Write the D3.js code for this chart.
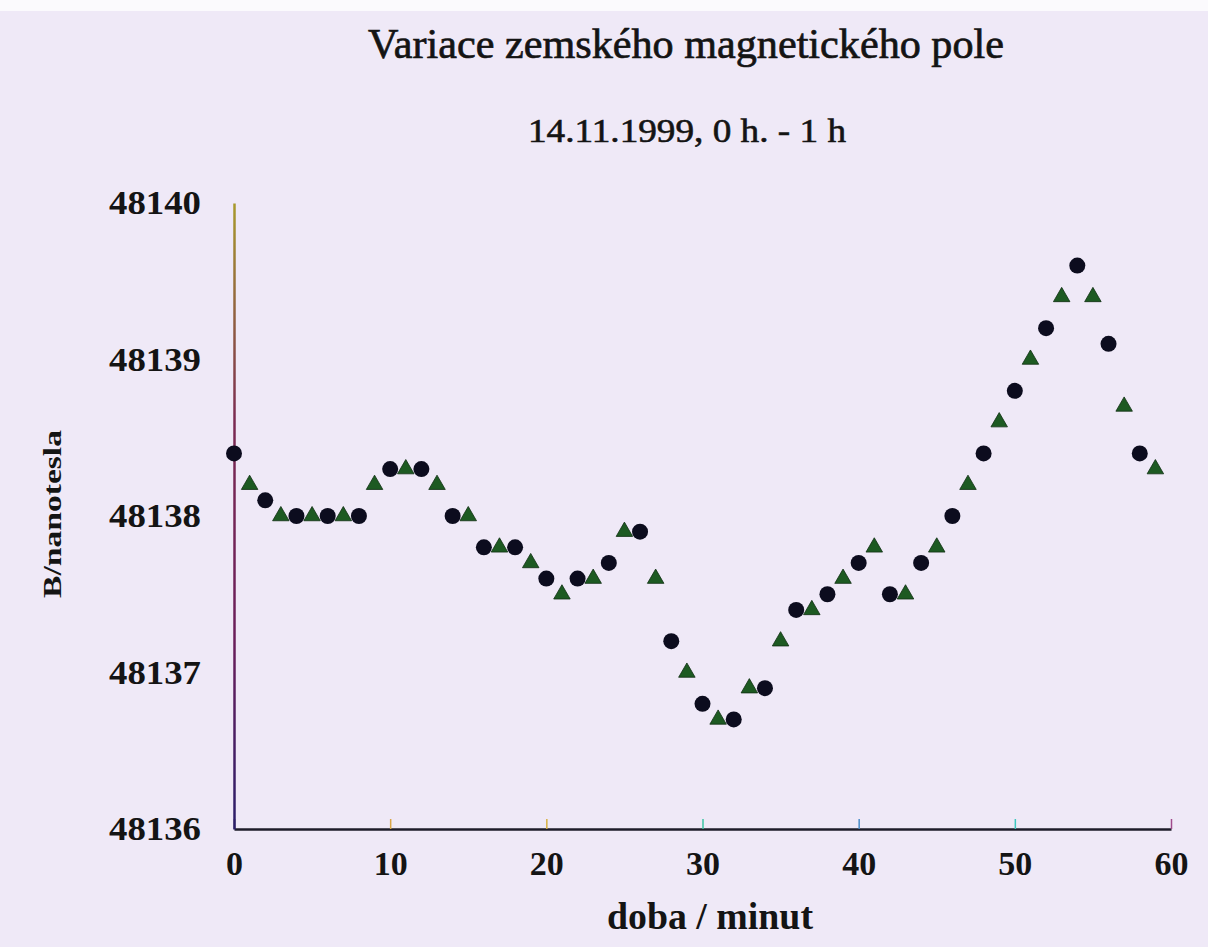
<!DOCTYPE html>
<html>
<head>
<meta charset="utf-8">
<script src="https://cdn.jsdelivr.net/npm/d3@7"></script>
<style>
  html, body { margin: 0; padding: 0; background: #efe9f7; }
  svg { display: block; }
  text { font-family: "Liberation Serif", "DejaVu Serif", serif; fill: #141414; }
</style>
</head>
<body>
<div id="chart"></div>
<script>
// readings: circles on even minutes, triangles on odd minutes
const evenMinutes = [0, 2, 4, 6, 8, 10, 12, 14, 16, 18, 20, 22, 24, 26, 28,
  30, 32, 34, 36, 38, 40, 42, 44, 46, 48, 50, 52, 54, 56, 58];
const evenValues = [48138.4, 48138.1, 48138.0, 48138.0, 48138.0, 48138.3, 48138.3, 48138.0,
  48137.8, 48137.8, 48137.6, 48137.6, 48137.7, 48137.9, 48137.2, 48136.8, 48136.7, 48136.9,
  48137.4, 48137.5, 48137.7, 48137.5, 48137.7, 48138.0, 48138.4, 48138.8, 48139.2, 48139.6,
  48139.1, 48138.4];

const oddMinutes = [1, 3, 5, 7, 9, 11, 13, 15, 17, 19, 21, 23, 25, 27, 29,
  31, 33, 35, 37, 39, 41, 43, 45, 47, 49, 51, 53, 55, 57, 59];
const oddValues = [48138.2, 48138.0, 48138.0, 48138.0, 48138.2, 48138.3, 48138.2, 48138.0,
  48137.8, 48137.7, 48137.5, 48137.6, 48137.9, 48137.6, 48137.0, 48136.7, 48136.9, 48137.2,
  48137.4, 48137.6, 48137.8, 48137.5, 48137.8, 48138.2, 48138.6, 48139.0, 48139.4, 48139.4,
  48138.7, 48138.3];

const xTicks = [0, 10, 20, 30, 40, 50, 60];
const yTicks = [48136, 48137, 48138, 48139, 48140];
const xTickColors = ['#2a2a2a', '#d9a648', '#d8b040', '#3cc4a4', '#4a8cc8', '#3ec8c0', '#a04c8c'];

const titleText = 'Variace zemského magnetického pole';
const subtitleText = '14.11.1999, 0 h. - 1 h';
const xLabel = 'doba / minut';
const yLabel = 'B/nanotesla';

const width = 1208, height = 947;
const plot = { left: 234, right: 1171, top: 203, bottom: 829 };

const svg = d3.select('#chart').append('svg')
  .attr('width', width)
  .attr('height', height);

svg.append('rect').attr('width', width).attr('height', height).attr('fill', '#efe9f7');
svg.append('rect').attr('width', width).attr('height', 11).attr('fill', '#fbfafd');

const x = d3.scaleLinear().domain([0, 60]).range([plot.left, plot.right]);
const y = d3.scaleLinear().domain([48136, 48140]).range([plot.bottom, plot.top]);

// the scanned y axis has a coloured fringe
const grad = svg.append('defs').append('linearGradient')
  .attr('id', 'yaxis-grad')
  .attr('gradientUnits', 'userSpaceOnUse')
  .attr('x1', 0).attr('y1', plot.top).attr('x2', 0).attr('y2', plot.bottom);
grad.append('stop').attr('offset', '0%').attr('stop-color', '#a89a2c');
grad.append('stop').attr('offset', '35%').attr('stop-color', '#7a2a52');
grad.append('stop').attr('offset', '70%').attr('stop-color', '#6a1e5a');
grad.append('stop').attr('offset', '100%').attr('stop-color', '#2a1e6a');

// titles
svg.append('text')
  .attr('x', 686).attr('y', 58)
  .attr('text-anchor', 'middle')
  .attr('font-size', 42)
  .attr('textLength', 636)
  .attr('lengthAdjust', 'spacingAndGlyphs')
  .attr('stroke', '#141414').attr('stroke-width', 0.7)
  .text(titleText);

svg.append('text')
  .attr('x', 687).attr('y', 142)
  .attr('text-anchor', 'middle')
  .attr('font-size', 34)
  .attr('textLength', 318)
  .attr('lengthAdjust', 'spacingAndGlyphs')
  .attr('stroke', '#141414').attr('stroke-width', 0.6)
  .text(subtitleText);

// x axis
const xAxis = svg.append('g')
  .attr('transform', `translate(0,${plot.bottom})`)
  .call(d3.axisBottom(x).tickValues(xTicks).tickSizeInner(-10).tickSizeOuter(0).tickPadding(22));

xAxis.select('.domain').attr('stroke', '#1e1c2a').attr('stroke-width', 2.5);
xAxis.selectAll('.tick line')
  .attr('stroke', (d, i) => xTickColors[i])
  .attr('stroke-width', 1.5);
xAxis.selectAll('.tick text')
  .attr('font-size', 34)
  .attr('font-weight', 'bold')
  .attr('font-family', '"Liberation Serif", serif')
  .attr('fill', '#141414');

// y axis
const yAxis = svg.append('g')
  .attr('transform', `translate(${plot.left},0)`)
  .call(d3.axisLeft(y).tickValues(yTicks).tickSize(0).tickPadding(33).tickFormat(d3.format('d')));

yAxis.select('.domain').attr('stroke', 'url(#yaxis-grad)').attr('stroke-width', 2.5);
yAxis.selectAll('.tick text')
  .attr('font-size', 34)
  .attr('font-weight', 'bold')
  .attr('font-family', '"Liberation Serif", serif')
  .attr('fill', '#141414')
  .attr('textLength', 92)
  .attr('lengthAdjust', 'spacingAndGlyphs');

// axis titles
svg.append('text')
  .attr('x', 710).attr('y', 929)
  .attr('text-anchor', 'middle')
  .attr('font-size', 38)
  .attr('font-weight', 'bold')
  .attr('textLength', 206)
  .attr('lengthAdjust', 'spacingAndGlyphs')
  .text(xLabel);

svg.append('text')
  .attr('transform', 'translate(61,514) rotate(-90)')
  .attr('text-anchor', 'middle')
  .attr('font-size', 26)
  .attr('font-weight', 'bold')
  .attr('textLength', 168)
  .attr('lengthAdjust', 'spacingAndGlyphs')
  .text(yLabel);

// markers
const evenData = evenMinutes.map((m, i) => ({ m, v: evenValues[i] }));
const oddData = oddMinutes.map((m, i) => ({ m, v: oddValues[i] }));

svg.append('g').selectAll('circle')
  .data(evenData)
  .join('circle')
  .attr('cx', d => x(d.m))
  .attr('cy', d => y(d.v))
  .attr('r', 8)
  .attr('fill', '#0c0c1e');

const tri = d3.symbol().type(d3.symbolTriangle).size(118);
svg.append('g').selectAll('path')
  .data(oddData)
  .join('path')
  .attr('d', tri)
  .attr('transform', d => `translate(${x(d.m)},${y(d.v)})`)
  .attr('fill', '#1d5a22')
  .attr('stroke', '#0f2e12')
  .attr('stroke-width', 0.8);
</script>
</body>
</html>
